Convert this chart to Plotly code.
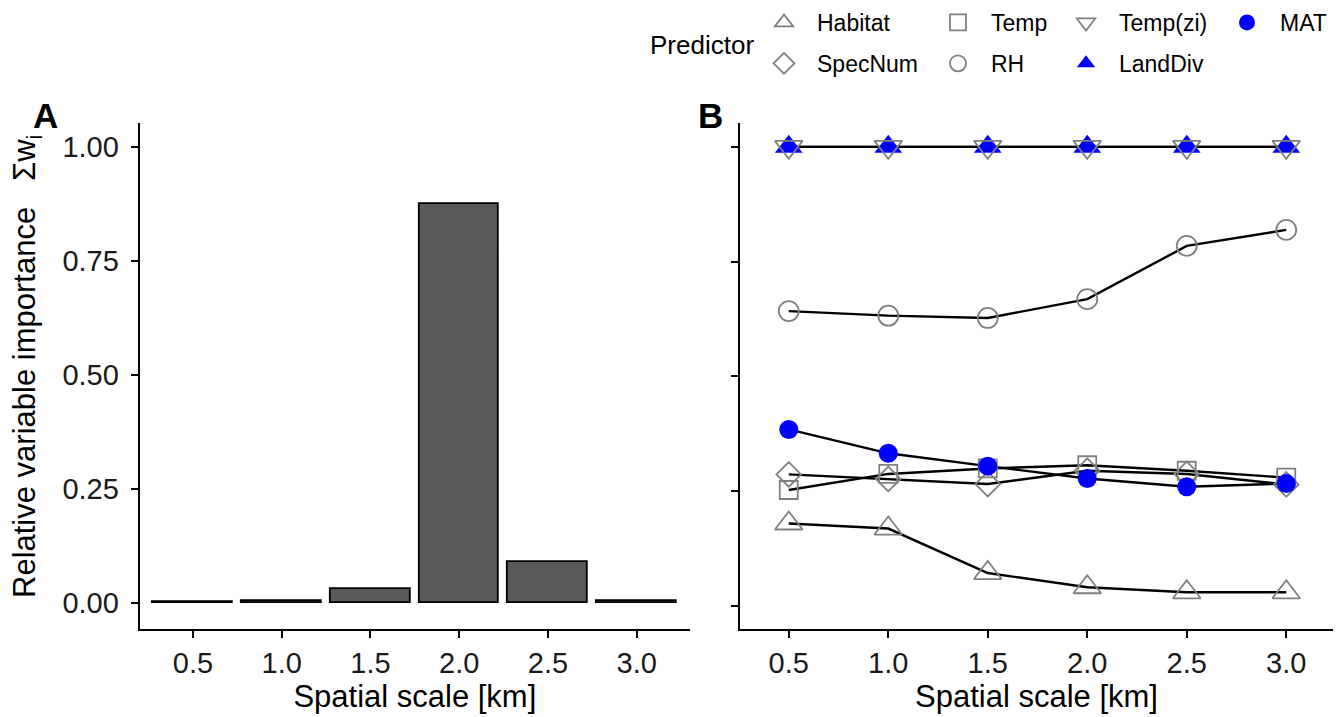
import plotly.graph_objects as go

# ---------------- data ----------------
scales = [0.5, 1.0, 1.5, 2.0, 2.5, 3.0]
scale_labels = ["0.5", "1.0", "1.5", "2.0", "2.5", "3.0"]

# Panel A: summed Akaike weights of the best spatial scale
bar_importance = [0.001, 0.003, 0.030, 0.874, 0.089, 0.004]

# Panel B: relative variable importance per predictor
habitat = [0.179, 0.168, 0.071, 0.040, 0.029, 0.029]
specnum = [0.286, 0.276, 0.265, 0.294, 0.287, 0.264]
temp = [0.252, 0.287, 0.299, 0.306, 0.294, 0.279]
rh = [0.642, 0.632, 0.627, 0.668, 0.784, 0.819]
temp_zi = [1.0, 1.0, 1.0, 1.0, 1.0, 1.0]
landdiv = [1.0, 1.0, 1.0, 1.0, 1.0, 1.0]
mat = [0.384, 0.332, 0.304, 0.277, 0.259, 0.266]

y_ticks = [0.0, 0.25, 0.5, 0.75, 1.0]
y_tick_labels = ["0.00", "0.25", "0.50", "0.75", "1.00"]

FONT = "Liberation Sans, Arial, sans-serif"
W, H = 1343, 717
OFF = 8  # page body margin
GREY = "#808080"
BLUE = "#0000ff"


def px_x(p):
    return (p - OFF) / W


def px_y(p):
    return 1 - (p - OFF) / H


fig = go.Figure()

# ---- Panel A bars ----
fig.add_trace(go.Bar(
    x=scales, y=bar_importance, width=0.45,
    marker=dict(color="#595959", line=dict(color="black", width=1.8)),
    xaxis="x", yaxis="y", showlegend=False, hoverinfo="x+y"))

# ---- Panel B ----
series = [
    # name, values, symbol, size, colour, filled, legend, rank
    ("Habitat", habitat, "triangle-up", 24, GREY, False, "legend", 1),
    ("SpecNum", specnum, "diamond", 19, GREY, False, "legend", 2),
    ("Temp", temp, "square", 18, GREY, False, "legend2", 3),
    ("RH", rh, "circle", 20, GREY, False, "legend2", 4),
    ("LandDiv", landdiv, "triangle-up", 24, BLUE, True, "legend3", 6),
    ("Temp(zi)", temp_zi, "triangle-down", 24, GREY, False, "legend3", 5),
    ("MAT", mat, "circle", 19, BLUE, True, "legend4", 7),
]

for name, vals, *_ in series:
    fig.add_trace(go.Scatter(
        x=scales, y=vals, mode="lines",
        line=dict(color="black", width=2.4),
        xaxis="x2", yaxis="y2", showlegend=False, hoverinfo="skip"))

for name, vals, sym, size, col, filled, leg, rank in series:
    if filled:
        marker = dict(symbol=sym, size=size, color=col, line=dict(width=0))
    else:
        marker = dict(symbol=sym + "-open", size=size, color=col,
                      line=dict(width=1.8, color=col))
    fig.add_trace(go.Scatter(
        x=scales, y=vals, mode="markers", name=name, marker=marker,
        xaxis="x2", yaxis="y2", legend=leg, legendrank=rank,
        legendgroup=name))

# ---------------- layout ----------------
y_dom = [px_y(629), px_y(123)]
tickfont = dict(family=FONT, size=29, color="#1a1a1a")
titlefont = dict(family=FONT, size=31, color="black")

common_axis = dict(showgrid=False, zeroline=False, showline=True,
                   linecolor="black", linewidth=2, ticks="outside",
                   ticklen=7, tickwidth=1.8, tickcolor="black",
                   tickfont=tickfont)

legend_common = dict(orientation="v", traceorder="grouped", tracegroupgap=8,
                     itemwidth=56, font=dict(family=FONT, size=23, color="black"),
                     bgcolor="rgba(0,0,0,0)", borderwidth=0,
                     xanchor="left", yanchor="top", y=px_y(1),
                     itemclick=False, itemdoubleclick=False)

fig.update_layout(
    width=W, height=H,
    margin=dict(l=0, r=0, t=0, b=0, autoexpand=False),
    paper_bgcolor="white", plot_bgcolor="white",
    font=dict(family=FONT, color="black"),
    bargap=0,
    xaxis=dict(domain=[px_x(139.7), px_x(690)], range=[0.2, 3.3],
               tickvals=scales, ticktext=scale_labels,
               title=dict(text="Spatial scale [km]", font=titlefont, standoff=5),
               anchor="y", **common_axis),
    yaxis=dict(domain=y_dom, range=[-0.058, 1.052],
               tickvals=y_ticks, ticktext=y_tick_labels, ticklabelstandoff=6,
               anchor="x", **common_axis),
    xaxis2=dict(domain=[px_x(740), px_x(1333)], range=[0.255, 3.235],
                tickvals=scales, ticktext=scale_labels,
                title=dict(text="Spatial scale [km]", font=titlefont, standoff=5),
                anchor="y2", **common_axis),
    yaxis2=dict(domain=y_dom, range=[-0.051, 1.052],
                tickvals=y_ticks, showticklabels=False,
                anchor="x2", **common_axis),
    legend=dict(x=px_x(751), **legend_common),
    legend2=dict(x=px_x(925), **legend_common),
    legend3=dict(x=px_x(1053), **legend_common),
    legend4=dict(x=px_x(1214), **legend_common),
    annotations=[
        dict(text="Relative variable importance&nbsp;&nbsp;&nbsp;Σw<sub>i</sub>",
             x=px_x(27), y=px_y(367), xref="paper", yref="paper",
             textangle=-90, showarrow=False, xanchor="center", yanchor="middle",
             font=dict(family=FONT, size=31, color="black")),
        dict(text="<b>A</b>", x=px_x(45.5), y=px_y(115.5), xref="paper", yref="paper",
             showarrow=False, xanchor="center", yanchor="middle",
             font=dict(family=FONT, size=35, color="black")),
        dict(text="<b>B</b>", x=px_x(710), y=px_y(115.5), xref="paper", yref="paper",
             showarrow=False, xanchor="center", yanchor="middle",
             font=dict(family=FONT, size=35, color="black")),
        dict(text="Predictor", x=px_x(648), y=px_y(45), xref="paper", yref="paper",
             showarrow=False, xanchor="left", yanchor="middle",
             font=dict(family=FONT, size=26, color="black")),
    ],
)

fig.write_html("out.html")
